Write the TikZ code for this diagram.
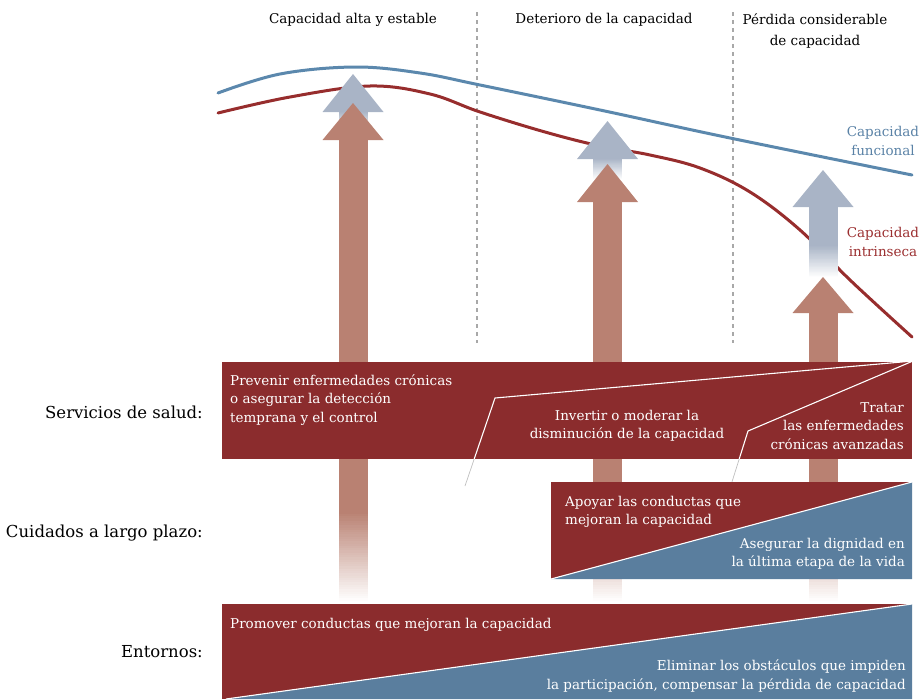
\documentclass[tikz,border=0pt]{standalone}
\usepackage{fontspec}
\setmainfont{DejaVu Serif}
\definecolor{boxred}{HTML}{8B2C2D}
\definecolor{boxblue}{HTML}{5A7E9E}
\definecolor{arrred}{HTML}{B98172}
\definecolor{arrblue}{HTML}{A9B4C6}
\definecolor{curveblue}{HTML}{5B88AD}
\definecolor{curvered}{HTML}{972D2D}
\definecolor{dashgray}{HTML}{A8A8A8}
\definecolor{txtblue}{HTML}{5A82A6}
\definecolor{txtred}{HTML}{9B2F30}
\tikzset{
  smalltxt/.style={font=\fontsize{13.5}{18.5}\selectfont, inner sep=0pt},
  boxtxt/.style={smalltxt, text=white},
  lbl/.style={font=\fontsize{16.5}{20}\selectfont, inner sep=0pt, anchor=east},
  divline/.style={dashgray, line width=1.2pt, dash pattern=on 4pt off 4pt},
  curveline/.style={line width=3pt, line cap=round, line join=round},
  sepline/.style={white, line width=1.1pt},
  sepfade/.style={black!25, line width=0.7pt},
}
% vertical fade: #1 x-left, #2 y-top, #3 x-right, #4 y-bottom, #5 colour (top) -> white (bottom)
\newcommand\myfadebar[5]{%
  \foreach \i in {0,...,39}{%
    \pgfmathtruncatemacro\pa{100-100*\i/39}%
    \pgfmathsetmacro\ya{#2+(#4-#2)*\i/40}%
    \pgfmathsetmacro\yb{#2+(#4-#2)*(\i+1)/40+0.5}%
    \fill[#5!\pa!white] (#1,\ya) rectangle (#3,\yb);
  }}
\begin{document}
\begin{tikzpicture}[x=1pt,y=-1pt]
\useasboundingbox (0,0) rectangle (923,699);

% divider lines
\coordinate (d1t) at (477,12); \coordinate (d1b) at (477,343);
\coordinate (d2t) at (733,12); \coordinate (d2b) at (733,343);
\draw[divline] (d1t) -- (d1b);
\draw[divline] (d2t) -- (d2b);

% headers
\node[smalltxt] (h1) at (353,20) {Capacidad alta y estable};
\node[smalltxt] (h2) at (604,20) {Deterioro de la capacidad};
\node[smalltxt, align=center, font=\fontsize{13.5}{20.5}\selectfont] (h3) at (815,31) {Pérdida considerable\\de capacidad};

% curves
\draw[curveline, curveblue] plot[smooth, tension=0.6] coordinates {(218,93) (280,74) (355,67) (420,73) (480,85) (600,110) (730,138) (912,175)};
\draw[curveline, curvered] plot[smooth, tension=0.6] coordinates {(218,113) (290,97) (370,86) (430,94) (480,112) (545,132) (600,146) (650,155) (700,168) (750,192) (800,230) (850,280) (912,337)};

\node[smalltxt, text=txtblue, align=center] (lf) at (883,141) {Capacidad\\funcional};
\node[smalltxt, text=txtred, align=center] (li) at (883,242) {Capacidad\\intrinseca};

% arrow 1
\fill[arrblue] (353,74) -- (383.5,112) -- (322.5,112) -- cycle;
\myfadebar{338.5}{111.5}{367.5}{132}{arrblue}
\fill[arrred] (353,103) -- (383.5,140) -- (322.5,140) -- cycle;
\fill[arrred] (338.5,139.5) rectangle (367.5,512);
\myfadebar{338.5}{511.5}{367.5}{603}{arrred}

% arrow 2
\fill[arrblue] (607.5,121) -- (638,159) -- (577,159) -- cycle;
\myfadebar{593}{158.5}{622}{180}{arrblue}
\fill[arrred] (607.5,164) -- (638,202) -- (577,202) -- cycle;
\fill[arrred] (593,201.5) rectangle (622,512);
\myfadebar{593}{511.5}{622}{603}{arrred}

% arrow 3
\fill[arrblue] (823,170) -- (853.5,207) -- (792.5,207) -- cycle;
\fill[arrblue] (808.5,206.5) rectangle (837.5,246);
\myfadebar{808.5}{245.5}{837.5}{278}{arrblue}
\fill[arrred] (823,277) -- (853.5,313) -- (792.5,313) -- cycle;
\fill[arrred] (808.5,312.5) rectangle (837.5,512);
\myfadebar{808.5}{511.5}{837.5}{603}{arrred}

% services box
\fill[boxred] (222,362) rectangle (912,459);
\coordinate (sc) at (913,361);
\coordinate (k1) at (495,398); \coordinate (e1) at (474.2,459); \coordinate (f1) at (465,486);
\coordinate (k2) at (748,431); \coordinate (e2) at (739.2,459); \coordinate (f2) at (731,485);
\draw[sepline, line join=miter] (sc) -- (k1) -- (e1);
\draw[sepline, line join=miter] (sc) -- (k2) -- (e2);
\draw[sepfade] (e1) -- (f1);
\draw[sepfade] (e2) -- (f2);

\node[boxtxt, align=left, anchor=west] (s1) at (230,400) {Prevenir enfermedades crónicas\\o asegurar la detección\\temprana y el control};
\node[boxtxt, align=center] (s2) at (627,426) {Invertir o moderar la\\disminución de la capacidad};
\node[boxtxt, align=right, anchor=east] (s3) at (904,426) {Tratar\\las enfermedades\\crónicas avanzadas};

% long-term care box
\fill[boxred] (551,482) rectangle (912,579);
\fill[boxblue] (551,579) -- (912,482) -- (912,579) -- cycle;
\coordinate (c1) at (551,579); \coordinate (c2) at (912,482);
\draw[sepline] (c1) -- (c2);
\node[boxtxt, align=left, anchor=west] (l1) at (565,512) {Apoyar las conductas que\\mejoran la capacidad};
\node[boxtxt, align=right, anchor=east] (l2) at (905,554) {Asegurar la dignidad en\\la última etapa de la vida};

% environments box
\fill[boxred] (222,604) rectangle (912,699);
\fill[boxblue] (226,699) -- (912,604) -- (912,699) -- cycle;
\coordinate (g1) at (226,699); \coordinate (g2) at (912,604);
\draw[sepline] (g1) -- (g2);
\node[boxtxt, anchor=west] (n1) at (230,625) {Promover conductas que mejoran la capacidad};
\node[boxtxt, align=right, anchor=east] (n2) at (906,676) {Eliminar los obstáculos que impiden\\la participación, compensar la pérdida de capacidad};

% row labels
\node[lbl] (r1) at (203,412) {Servicios de salud:};
\node[lbl] (r2) at (203,533) {Cuidados a largo plazo:};
\node[lbl] (r3) at (203,652) {Entornos:};
\end{tikzpicture}
\end{document}
